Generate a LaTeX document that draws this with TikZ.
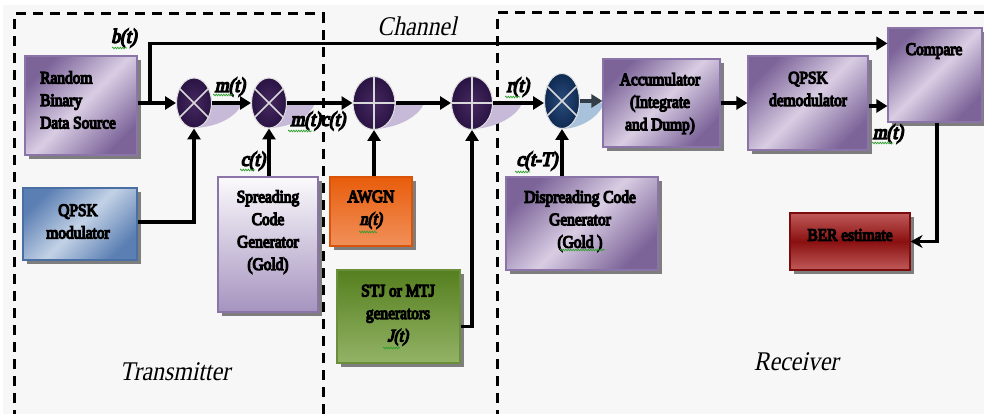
\documentclass[tikz,border=0pt]{standalone}
\usepackage{fontspec}
\setmainfont{Liberation Serif}[FakeStretch=0.88,
  BoldFont={Liberation Serif},BoldFeatures={FakeBold=7},
  ItalicFont={Liberation Serif},ItalicFeatures={FakeSlant=0.21},
  BoldItalicFont={Liberation Serif},BoldItalicFeatures={FakeBold=7,FakeSlant=0.21}]
\usetikzlibrary{arrows.meta,shapes.geometric,shadows,decorations.pathmorphing}
\definecolor{bg}{HTML}{F7F7F7}
\definecolor{pdark}{HTML}{7C6499}
\definecolor{plight}{HTML}{D9CDE3}
\definecolor{pborder}{HTML}{8A74A8}
\definecolor{bdark}{HTML}{5B7FB3}
\definecolor{blight}{HTML}{C3D2E6}
\definecolor{bborder}{HTML}{4A6FA5}
\definecolor{sptop}{HTML}{FBFAFC}
\definecolor{spbot}{HTML}{A593BF}
\definecolor{odark}{HTML}{E85D0C}
\definecolor{olight}{HTML}{F1905A}
\definecolor{oborder}{HTML}{D9540A}
\definecolor{gdark}{HTML}{557F1F}
\definecolor{glight}{HTML}{93B366}
\definecolor{gborder}{HTML}{6B8E3A}
\definecolor{rdark}{HTML}{8A1010}
\definecolor{rlight}{HTML}{C05A5A}
\definecolor{rborder}{HTML}{7A0C0C}
\definecolor{tailP}{HTML}{C7BAD8}
\definecolor{tailB}{HTML}{A9C2DC}
\definecolor{ellP}{HTML}{2A1444}
\definecolor{ellPin}{HTML}{45285F}
\definecolor{ellB}{HTML}{0E2A52}
\definecolor{ellBin}{HTML}{2A4C7C}
\definecolor{sqg}{HTML}{2E9E2E}
\definecolor{slate}{HTML}{333D48}
\tikzset{
  shadowbox/.style={drop shadow={shadow xshift=4pt,shadow yshift=-4pt,fill=black!70,opacity=0.7}},
  pbox/.style={rectangle,draw=pborder,line width=1.2pt,inner sep=0pt,top color=pdark,bottom color=pdark,middle color=plight,shading angle=45,shadowbox},
  bbox/.style={rectangle,draw=bborder,line width=1.2pt,inner sep=0pt,top color=bdark,bottom color=bdark,middle color=blight,shading angle=45,shadowbox},
  sbox/.style={rectangle,draw=pborder,line width=1.2pt,inner sep=0pt,top color=sptop,bottom color=spbot,shadowbox},
  obox/.style={rectangle,draw=oborder,line width=1.2pt,inner sep=0pt,top color=odark,bottom color=olight,shadowbox},
  gbox/.style={rectangle,draw=gborder,line width=1.2pt,inner sep=0pt,top color=gdark,bottom color=glight,shadowbox},
  rbox/.style={rectangle,draw=rborder,line width=1.2pt,inner sep=0pt,top color=rlight,bottom color=rlight,middle color=rdark,shadowbox},
  mulP/.style={ellipse,draw=black!12,line width=1pt,inner sep=0pt,shading=radial,inner color=ellPin,outer color=ellP},
  mulB/.style={ellipse,draw=black!12,line width=1pt,inner sep=0pt,shading=radial,inner color=ellBin,outer color=ellB},
  xl/.style={draw=black!15,line width=1.6pt},
  dbox/.style={draw=black,line width=3pt,dash pattern=on 10pt off 7pt},
  sig/.style={draw=black,line width=3.5pt,-{Triangle[length=11pt,width=13pt]}},
  txt/.style={font=\bfseries\fontsize{17.5}{22.5}\selectfont,align=center,inner sep=0pt},
  lab/.style={font=\bfseries\itshape\fontsize{20}{24}\selectfont,inner sep=0pt},
  ttl/.style={font=\itshape\fontsize{27}{30}\selectfont,inner sep=0pt},
  squig/.style={draw=sqg,line width=0.7pt,decorate,decoration={snake,amplitude=0.8pt,segment length=2.5pt}}
}
\begin{document}
\begin{tikzpicture}[x=1pt,y=-1pt]
\fill[white] (0,0) rectangle (984,414);
\fill[bg] (3,5) rectangle (984,414);
\clip (0,0) rectangle (984,414);
% dashed section boxes
\draw[dbox] (14,420) -- (14,14) -- (323,14) -- (323,420);
\draw[dbox] (497,420) -- (497,13) -- (990,13);
% titles
\node[ttl] (chan) at (417,26) {Channel};
\node[ttl] (tx) at (175,372) {Transmitter};
\node[ttl] (rx) at (796,362) {Receiver};
% tails of multipliers / adders
\fill[tailP] (194,103) -- (242,103) .. controls (238,115) and (220,127) .. (194,128) -- cycle;
\fill[tailP] (269,103) -- (315,103) .. controls (311,115) and (295,127) .. (269,128) -- cycle;
\fill[tailP] (374,103) -- (424,103) .. controls (420,115) and (400,128) .. (374,129) -- cycle;
\fill[tailP] (472,103) -- (522,103) .. controls (518,115) and (498,128) .. (472,129) -- cycle;
\fill[tailB] (562,103) -- (604,103) .. controls (600,115) and (584,128) .. (562,129) -- cycle;
% multipliers and adders
\node[mulP,minimum width=35pt,minimum height=50pt] (m1) at (194,103) {};
\node[mulP,minimum width=35pt,minimum height=50pt] (m2) at (269,103) {};
\node[mulP,minimum width=42pt,minimum height=53pt] (a1) at (374,103) {};
\node[mulP,minimum width=41pt,minimum height=53pt] (a2) at (472,103) {};
\node[mulB,minimum width=35pt,minimum height=55pt] (m3) at (562,101) {};
\draw[xl] (m1.45) -- (m1.225) (m1.135) -- (m1.315);
\draw[xl] (m2.45) -- (m2.225) (m2.135) -- (m2.315);
\draw[xl] (m3.45) -- (m3.225) (m3.135) -- (m3.315);
\draw[xl] (a1.north) -- (a1.south) (a1.west) -- (a1.east);
\draw[xl] (a2.north) -- (a2.south) (a2.west) -- (a2.east);
% boxes
\node[pbox,minimum width=112pt,minimum height=99pt] (src) at (81,105.5) {};
\node[txt,align=left,anchor=west] (srcT) at (40,100) {Random\\Binary\\Data Source};
\node[bbox,minimum width=114pt,minimum height=72pt] (qmod) at (80,224) {};
\node[txt] (qmodT) at (78,221.5) {QPSK\\modulator};
\node[sbox,minimum width=100pt,minimum height=135pt] (spr) at (268,244.5) {};
\node[txt] (sprT) at (268,232) {Spreading\\Code\\Generator\\(Gold)};
\node[obox,minimum width=82pt,minimum height=69pt] (awgn) at (371,211.5) {};
\node[txt] (awgnT) at (371,209.5) {AWGN\\{\itshape n(t)}};
\node[gbox,minimum width=123pt,minimum height=93pt] (stj) at (398.5,316.5) {};
\node[txt] (stjT) at (398,315) {STJ or MTJ\\generators\\{\itshape J(t)}};
\node[pbox,minimum width=117pt,minimum height=88pt] (acc) at (661.5,103) {};
\node[txt] (accT) at (660,103.5) {Accumulator\\(Integrate\\and Dump)};
\node[pbox,minimum width=120pt,minimum height=94pt] (dem) at (808,103) {};
\node[txt] (demT) at (808,89) {QPSK\\demodulator};
\node[pbox,minimum width=94pt,minimum height=94pt] (cmp) at (935,75) {};
\node[txt] (cmpT) at (934,51) {Compare};
\node[pbox,minimum width=152pt,minimum height=93pt] (dsp) at (582,223.5) {};
\node[txt] (dspT) at (580,221) {Dispreading Code\\Generator\\(Gold )};
\node[rbox,minimum width=120pt,minimum height=57pt] (ber) at (850,241.5) {};
\node[txt] (berT) at (850,235) {BER estimate};
% signal flow
\coordinate (br) at (150,103);
\draw[sig] (src.east |- m1.west) -- (m1.west);
\draw[sig] (br) |- ([yshift=-16pt]cmp.north west);
\draw[sig] (m1.east) -- (m2.west);
\draw[sig] (m2.east) -- (a1.west);
\draw[sig] (a1.east) -- (a2.west);
\draw[sig] (a2.east) -- (m3.west |- a2.east);
\draw[sig,draw=slate] (m3.east) -- (acc.west |- m3.east);
\draw[sig] (acc.east) -- (dem.west);
\draw[sig] ([yshift=-3pt]dem.east) -- ([yshift=-3pt]dem.east -| cmp.west);
\draw[sig] (qmod.east |- 0,222) -| (m1.south);
\draw[sig] (m2.south |- spr.north) -- (m2.south);
\draw[sig] (a1.south |- awgn.north) -- (a1.south);
\draw[sig] ([yshift=-10pt]stj.east) -| (a2.south);
\draw[sig] (m3.south |- dsp.north) -- (m3.south);
\draw[line width=3.5pt,-{Stealth[length=12pt,width=13pt]}] ([xshift=2pt]cmp.south) |- (ber.east);
% signal labels
\node[lab] (lbt) at (124,38) {b(t)};
\node[lab] (lmt) at (230,87) {m(t)};
\node[lab] (lmc) at (318,121) {m(t)c(t)};
\node[lab] (lct) at (253,161) {c(t)};
\node[lab] (lrt) at (518,87) {r(t)};
\node[lab] (lctT) at (537,161) {c(t-T)};
\node[lab] (lmr) at (888,134) {m(t)};
% spell-check squiggles
\draw[squig] (112,48) -- (127,48);
\draw[squig] (213,95) -- (233,95);
\draw[squig] (288,131) -- (312,131);
\draw[squig] (240,170) -- (255,170);
\draw[squig] (359,232) -- (377,232);
\draw[squig] (383,348) -- (400,348);
\draw[squig] (505,97) -- (520,97);
\draw[squig] (515,172) -- (530,172);
\draw[squig] (872,143) -- (893,143);
\draw[squig] (560,250) -- (605,250);
\end{tikzpicture}
\end{document}
